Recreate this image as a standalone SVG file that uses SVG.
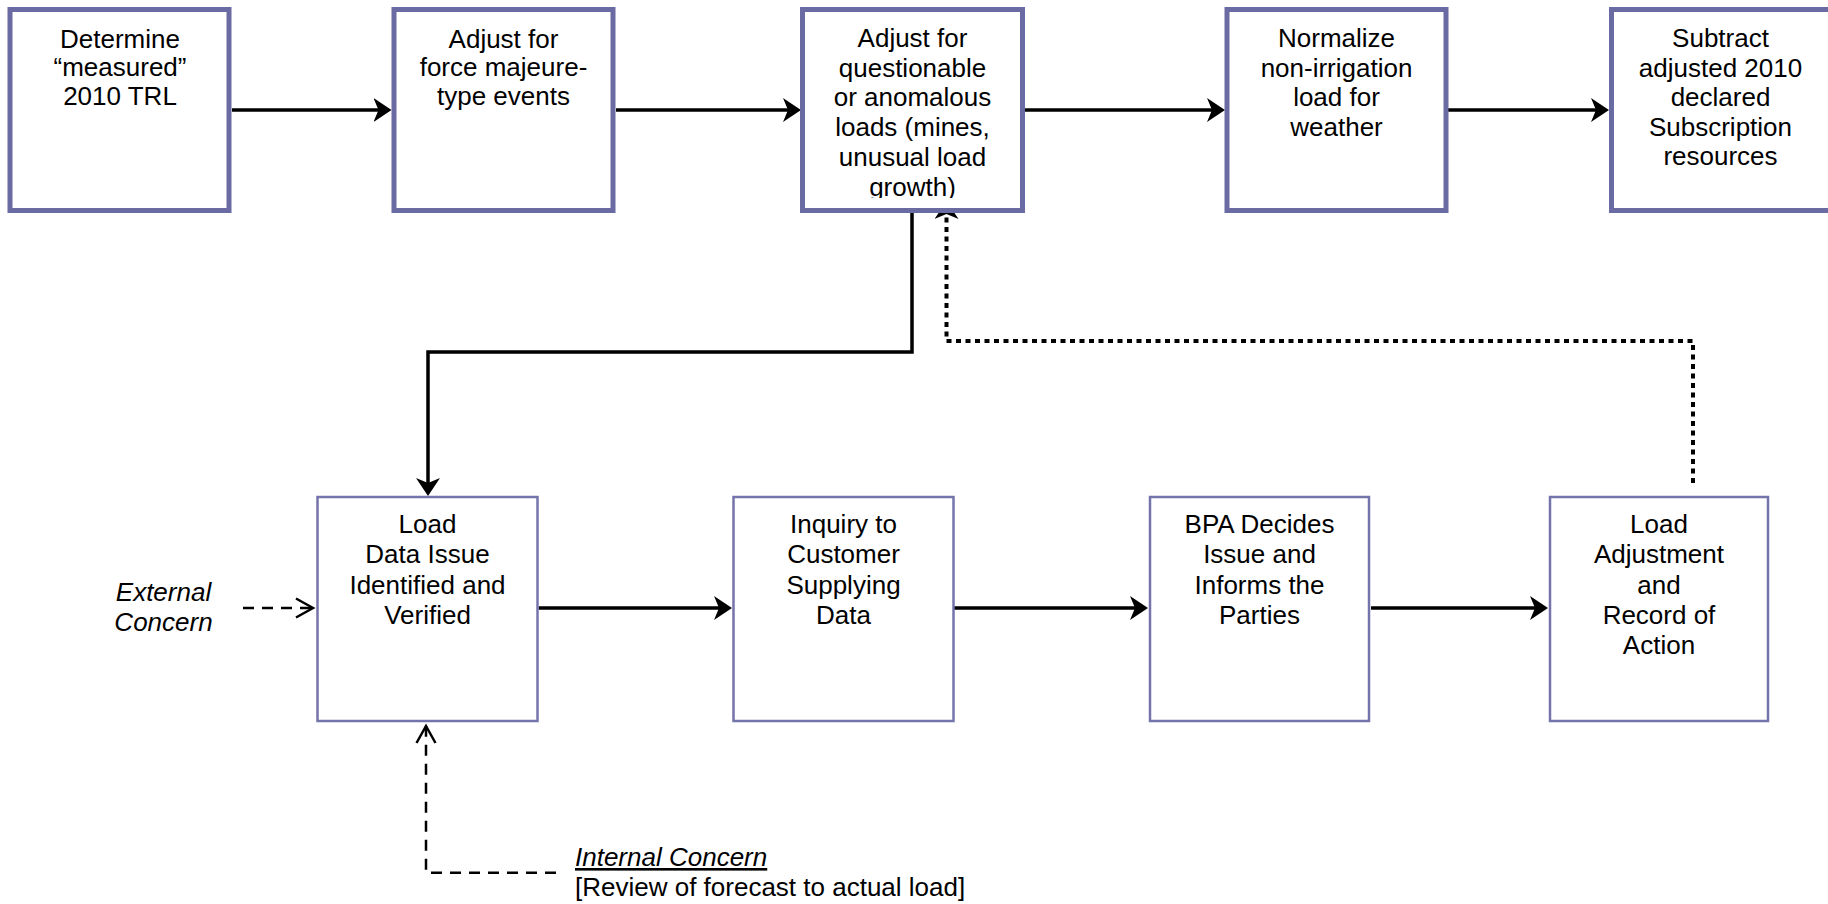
<svg xmlns="http://www.w3.org/2000/svg" width="1828" height="904" viewBox="0 0 1828 904">
<style>
.bt{fill:#fff;stroke:#6b6ba4;stroke-width:5}
.bb{fill:#fff;stroke:#7474aa;stroke-width:2.5}
text{font-family:"Liberation Sans",Arial,sans-serif;font-size:26px;fill:#000}
.c{text-anchor:middle}
.it{font-style:italic}
.sol{fill:none;stroke:#000;stroke-width:3.5}
.dot{fill:none;stroke:#000;stroke-width:4;stroke-dasharray:5 4.5}
.dash{fill:none;stroke:#000;stroke-width:2.5;stroke-dasharray:11 8}
</style>
<defs>
<marker id="ah" markerUnits="userSpaceOnUse" viewBox="0 0 18 24" refX="15" refY="12" markerWidth="18" markerHeight="24" orient="auto">
<path d="M0,0 L18,12 L0,24 L5,12 Z" fill="#000"/>
</marker>
<marker id="ov" markerUnits="userSpaceOnUse" viewBox="-2 -2 22 23" refX="17" refY="9.5" markerWidth="22" markerHeight="23" orient="auto">
<path d="M0,0 L17,9.5 L0,19" fill="none" stroke="#000" stroke-width="2.5"/>
</marker>
<clipPath id="clip3"><rect x="800" y="0" width="230" height="198"/></clipPath>
</defs>

<g id="connectors">
<line class="sol" x1="232" y1="110" x2="388.5" y2="110" marker-end="url(#ah)"/>
<line class="sol" x1="616" y1="110" x2="798" y2="110" marker-end="url(#ah)"/>
<line class="sol" x1="1025" y1="110" x2="1222" y2="110" marker-end="url(#ah)"/>
<line class="sol" x1="1448" y1="110" x2="1606" y2="110" marker-end="url(#ah)"/>
<path class="sol" d="M912,213 V352 H428 V493" marker-end="url(#ah)"/>
<path class="dot" d="M1693,483 V341 H946.5 V204" marker-end="url(#ah)"/>
<line class="sol" x1="538.6" y1="608" x2="729" y2="608" marker-end="url(#ah)"/>
<line class="sol" x1="954" y1="608" x2="1145" y2="608" marker-end="url(#ah)"/>
<line class="sol" x1="1371" y1="608" x2="1545" y2="608" marker-end="url(#ah)"/>
<line class="dash" x1="243" y1="608" x2="313" y2="608" marker-end="url(#ov)"/>
<path class="dash" d="M556,872.7 H426 V726" marker-end="url(#ov)"/>
</g>

<g id="n1">
<rect class="bt" x="10" y="9.5" width="219" height="201"/>
<text class="c" x="120" y="47.5">Determine</text>
<text class="c" x="120" y="76">“measured”</text>
<text class="c" x="120" y="104.5">2010 TRL</text>
</g>
<g id="n2">
<rect class="bt" x="394" y="9.5" width="219" height="201"/>
<text class="c" x="503.5" y="47.5">Adjust for</text>
<text class="c" x="503.5" y="76">force majeure-</text>
<text class="c" x="503.5" y="104.5">type events</text>
</g>
<g id="n3">
<rect class="bt" x="802.5" y="9.5" width="220" height="201"/>
<g clip-path="url(#clip3)">
<text class="c" x="912.5" y="46.5">Adjust for</text>
<text class="c" x="912.5" y="76.5">questionable</text>
<text class="c" x="912.5" y="106">or anomalous</text>
<text class="c" x="912.5" y="136">loads (mines,</text>
<text class="c" x="912.5" y="166">unusual load</text>
<text class="c" x="912.5" y="195.5">growth)</text>
</g>
</g>
<g id="n4">
<rect class="bt" x="1227" y="9.5" width="219" height="201"/>
<text class="c" x="1336.5" y="46.5">Normalize</text>
<text class="c" x="1336.5" y="76.5">non-irrigation</text>
<text class="c" x="1336.5" y="106">load for</text>
<text class="c" x="1336.5" y="135.5">weather</text>
</g>
<g id="n5">
<rect class="bt" x="1611.5" y="9.5" width="219" height="201"/>
<text class="c" x="1720.5" y="46.5">Subtract</text>
<text class="c" x="1720.5" y="76.5">adjusted 2010</text>
<text class="c" x="1720.5" y="106">declared</text>
<text class="c" x="1720.5" y="135.5">Subscription</text>
<text class="c" x="1720.5" y="165">resources</text>
</g>

<g id="nA">
<rect class="bb" x="317.5" y="497" width="220" height="224"/>
<text class="c" x="427.5" y="533">Load</text>
<text class="c" x="427.5" y="563">Data Issue</text>
<text class="c" x="427.5" y="593.5">Identified and</text>
<text class="c" x="427.5" y="624">Verified</text>
</g>
<g id="nB">
<rect class="bb" x="733.5" y="497" width="220" height="224"/>
<text class="c" x="843.5" y="533">Inquiry to</text>
<text class="c" x="843.5" y="563">Customer</text>
<text class="c" x="843.5" y="593.5">Supplying</text>
<text class="c" x="843.5" y="624">Data</text>
</g>
<g id="nC">
<rect class="bb" x="1150" y="497" width="219" height="224"/>
<text class="c" x="1259.5" y="533">BPA Decides</text>
<text class="c" x="1259.5" y="563">Issue and</text>
<text class="c" x="1259.5" y="593.5">Informs the</text>
<text class="c" x="1259.5" y="624">Parties</text>
</g>
<g id="nD">
<rect class="bb" x="1550" y="497" width="218" height="224"/>
<text class="c" x="1659" y="533">Load</text>
<text class="c" x="1659" y="563">Adjustment</text>
<text class="c" x="1659" y="593.5">and</text>
<text class="c" x="1659" y="624">Record of</text>
<text class="c" x="1659" y="654">Action</text>
</g>

<g id="external">
<text class="c it" x="163.5" y="601">External</text>
<text class="c it" x="163.5" y="631">Concern</text>
</g>
<g id="internal">
<text class="it" x="575" y="866" text-decoration="underline">Internal Concern</text>
<text x="575" y="896">[Review of forecast to actual load]</text>
</g>
</svg>
